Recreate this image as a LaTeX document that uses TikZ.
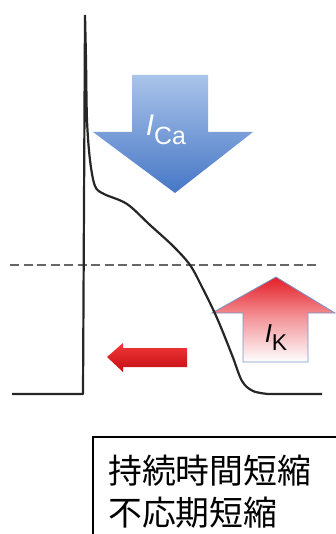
\documentclass[tikz,border=0pt]{standalone}
\usepackage{fontspec}
\setmainfont{Liberation Sans}
\newfontfamily\cjk{Noto Sans CJK JP}
\usepackage{tikz}
\usetikzlibrary{positioning,calc}

\definecolor{caTop}{HTML}{AAC4EA}
\definecolor{caBot}{HTML}{4677C6}
\definecolor{kRed}{HTML}{E41E26}
\definecolor{kEdge}{HTML}{7A96CC}
\definecolor{shTop}{HTML}{F2383A}
\definecolor{shBot}{HTML}{C40E12}

\begin{document}
\begin{tikzpicture}[
  x=1bp, y=-1bp,
  trace/.style={line width=2.2bp, black!85, line join=round},
  level/.style={line width=2.5bp, black!60, dash pattern=on 9bp off 4.5bp},
  label/.style={inner sep=0pt, font=\fontsize{30}{32}\selectfont},
  msgbox/.style={draw, line width=1.8bp, inner sep=0pt}
]
\useasboundingbox (0,0) rectangle (335,534);

% threshold level
\draw[level] (10,265) -- (320,265);

% Ca current (inward, down)
\shade[top color=caTop, bottom color=caBot]
  (132,75) -- (208,75) -- (208,132) -- (253,132) -- (175,193)
  -- (93,132) -- (132,132) -- cycle;
\node[label, text=white] (ica) at (166,130) {\textit{I}\raisebox{-9bp}{\fontsize{25}{27}\selectfont Ca}};

% K current (outward, up)
\shade[top color=kRed, bottom color=white, middle color=kRed!45, draw=kEdge, line width=0.8bp]
  (276,277) -- (335,313) -- (308,313) -- (308,362) -- (243,362)
  -- (243,313) -- (212,313) -- cycle;
\node[label, text=black, font=\fontsize{26}{28}\selectfont] (ik) at (276,338) {\textit{I}\raisebox{-8bp}{\fontsize{23}{25}\selectfont K}};

% shortening arrow
\shade[top color=shTop, bottom color=shBot]
  (107,357) -- (123,343) -- (123,348) -- (187,348) -- (187,367)
  -- (123,367) -- (123,372) -- cycle;

% action potential
\coordinate (rest) at (12,394);
\coordinate (up) at (83,394);
\coordinate (peak) at (85,15);
\coordinate (tail) at (322,394);
\draw[trace] (rest) -- (up) -- (peak)
  plot[smooth, tension=0.55] coordinates {(85,15) (86,60) (87,120) (90,160) (95,186)
    (104,194) (127,204) (150,225) (173,246) (190,265) (202,287) (217,318)
    (232,355) (242,381) (253,391) (268,394)} -- (tail);

% result box
\draw[msgbox] (93,437) rectangle (340,540);
\node[anchor=north west, align=left, inner sep=0pt,
  font=\cjk\fontsize{34}{42}\selectfont] (msg) at (108,455)
  {持続時間短縮\\不応期短縮};
\end{tikzpicture}
\end{document}
